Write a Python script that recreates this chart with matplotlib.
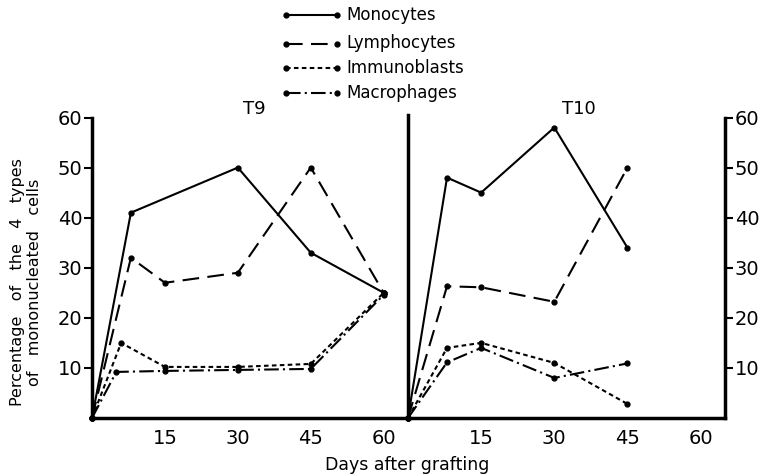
import matplotlib.pyplot as plt
from matplotlib.lines import Line2D

plt.rcParams['font.family'] = ['DejaVu Sans']

# Cell types and line styles
cell_types = ['Monocytes', 'Lymphocytes', 'Immunoblasts', 'Macrophages']
line_styles = ['-', (0, (8, 4)), (0, (2.2, 1.6)), (0, (7, 2, 1, 2))]

# Graft T9: days after grafting and percentages
t9_mono_days = [0, 8, 30, 45, 60]
t9_mono_pct = [0, 41, 50, 33, 25]
t9_lymph_days = [0, 8, 15, 30, 45, 60]
t9_lymph_pct = [0, 32, 27, 29, 50, 25]
t9_immuno_days = [0, 6, 15, 30, 45, 60]
t9_immuno_pct = [0, 15, 10.2, 10.2, 10.8, 25]
t9_macro_days = [0, 5, 15, 30, 45, 60]
t9_macro_pct = [0, 9.2, 9.4, 9.6, 9.8, 24.6]

# Graft T10
t10_mono_days = [0, 8, 15, 30, 45]
t10_mono_pct = [0, 48, 45, 58, 34]
t10_lymph_days = [0, 8, 15, 30, 45]
t10_lymph_pct = [0, 26.3, 26.1, 23.2, 50]
t10_immuno_days = [0, 8, 15, 30, 45]
t10_immuno_pct = [0, 14, 15, 11, 2.8]
t10_macro_days = [0, 8, 15, 30, 45]
t10_macro_pct = [0, 11.1, 14, 8, 10.9]

x_ticks = [15, 30, 45, 60]
y_ticks = [10, 20, 30, 40, 50, 60]

fig = plt.figure(figsize=(7.68, 4.76), dpi=100)
bottom, top = 1 - 418 / 476, 1 - 117.5 / 476
ax1 = fig.add_axes([92 / 768, bottom, (408 - 92) / 768, top - bottom])
ax2 = fig.add_axes([408 / 768, bottom, (725 - 408) / 768, top - bottom])

t9 = [(t9_mono_days, t9_mono_pct), (t9_lymph_days, t9_lymph_pct),
      (t9_immuno_days, t9_immuno_pct), (t9_macro_days, t9_macro_pct)]
t10 = [(t10_mono_days, t10_mono_pct), (t10_lymph_days, t10_lymph_pct),
       (t10_immuno_days, t10_immuno_pct), (t10_macro_days, t10_macro_pct)]

for ax, data in ((ax1, t9), (ax2, t10)):
    for (d, p), ls in zip(data, line_styles):
        ax.plot(d, p, color='black', lw=1.5, ls=ls, marker='o', ms=3.5,
                clip_on=False)
    ax.set_xlim(0, 65)
    ax.set_ylim(0, 60)
    ax.set_xticks(x_ticks)
    ax.set_yticks(y_ticks)
    ax.tick_params(axis='x', length=0, labelsize=14, pad=8)
    ax.tick_params(axis='y', labelsize=14, width=1.5, length=6, pad=1)
    for s in ax.spines.values():
        s.set_linewidth(2.5)
    ax.spines['top'].set_visible(False)
    ax.patch.set_visible(False)

ax1.spines['right'].set_visible(False)
ax2.yaxis.tick_right()
ax2.spines['left'].set_bounds(0, 60.5)

ax1.text(0.515, 1.0, 'T9', transform=ax1.transAxes, ha='center', va='bottom', fontsize=13)
ax2.text(0.54, 1.0, 'T10', transform=ax2.transAxes, ha='center', va='bottom', fontsize=13)

# Legend drawn in figure coordinates
rows = [15, 43.5, 68.5, 93]
for name, ls, ry in zip(cell_types, line_styles, rows):
    yf = 1 - ry / 476
    fig.add_artist(Line2D([286 / 768, 337 / 768], [yf, yf], color='black', lw=1.5,
                          ls=ls, marker='o', ms=3.5))
    fig.text(346 / 768, yf, name, fontsize=12, va='center', ha='left')

fig.text(407 / 768, 1 - 465 / 476, 'Days after grafting', ha='center', va='center', fontsize=12.5)
fig.text(18 / 768, 1 - 282 / 476, 'Percentage   of   the   4   types', rotation=90,
         ha='center', va='center', fontsize=11.5)
fig.text(35 / 768, 1 - 282 / 476, 'of   mononucleated   cells', rotation=90,
         ha='center', va='center', fontsize=11.5)

fig.savefig('out.png', dpi=100)
